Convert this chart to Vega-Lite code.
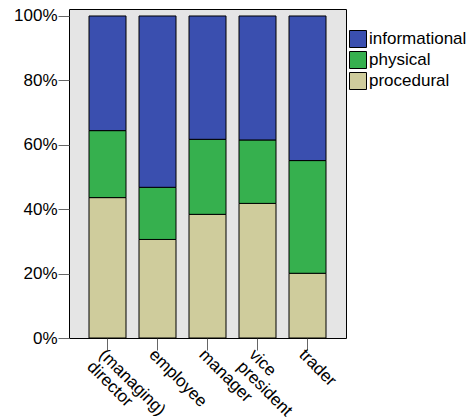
{
  "$schema": "https://vega.github.io/schema/vega-lite/v6.json",
  "autosize": {"type": "none"},
  "padding": {"left": 69, "top": 9, "right": 128, "bottom": 81},
  "width": 277,
  "height": 329,
  "background": "white",
  "config": {
    "font": "Liberation Sans",
    "view": {"fill": "#E5E5E5", "stroke": "#000000", "strokeWidth": 1}
  },
  "data": {
    "values": [
      {"role": "(managing)|director", "type": "procedural", "pct": 0.436},
      {"role": "(managing)|director", "type": "physical", "pct": 0.208},
      {"role": "(managing)|director", "type": "informational", "pct": 0.356},
      {"role": "employee", "type": "procedural", "pct": 0.306},
      {"role": "employee", "type": "physical", "pct": 0.162},
      {"role": "employee", "type": "informational", "pct": 0.532},
      {"role": "manager", "type": "procedural", "pct": 0.384},
      {"role": "manager", "type": "physical", "pct": 0.233},
      {"role": "manager", "type": "informational", "pct": 0.383},
      {"role": "vice|president", "type": "procedural", "pct": 0.418},
      {"role": "vice|president", "type": "physical", "pct": 0.197},
      {"role": "vice|president", "type": "informational", "pct": 0.385},
      {"role": "trader", "type": "procedural", "pct": 0.201},
      {"role": "trader", "type": "physical", "pct": 0.350},
      {"role": "trader", "type": "informational", "pct": 0.449}
    ]
  },
  "mark": {"type": "bar", "stroke": "#000000", "strokeWidth": 1},
  "encoding": {
    "x": {
      "field": "role",
      "type": "nominal",
      "sort": null,
      "scale": {"paddingInner": 0.26, "paddingOuter": 0.4},
      "axis": {
        "title": null,
        "domain": false,
        "labelAngle": 45,
        "labelAlign": "left",
        "labelBaseline": "top",
        "labelPadding": -4,
        "labelFontSize": 17,
        "labelColor": "#000000",
        "labelExpr": "split(datum.label, '|')",
        "labelLineHeight": 17,
        "tickColor": "#666666",
        "tickSize": 12,
        "labelOverlap": false
      }
    },
    "y": {
      "field": "pct",
      "type": "quantitative",
      "stack": "zero",
      "scale": {"domain": [0, 1.0217], "nice": false},
      "axis": {
        "title": null,
        "domain": false,
        "grid": false,
        "values": [0, 0.2, 0.4, 0.6, 0.8, 1.0],
        "format": ".0%",
        "labelFontSize": 17,
        "labelColor": "#000000",
        "labelPadding": 1,
        "tickColor": "#666666",
        "tickSize": 11
      }
    },
    "color": {
      "field": "type",
      "type": "nominal",
      "scale": {
        "domain": ["informational", "physical", "procedural"],
        "range": ["#3A4FAF", "#36B04E", "#CFCC9C"]
      },
      "legend": {
        "title": null,
        "orient": "none",
        "legendX": 280,
        "legendY": 21,
        "symbolType": "square",
        "symbolSize": 289,
        "symbolStrokeColor": "#000000",
        "symbolStrokeWidth": 1,
        "symbolOpacity": 1,
        "labelFontSize": 17,
        "labelColor": "#000000",
        "labelOffset": 2,
        "rowPadding": -1
      }
    },
    "order": {"field": "type", "sort": "descending"}
  }
}
